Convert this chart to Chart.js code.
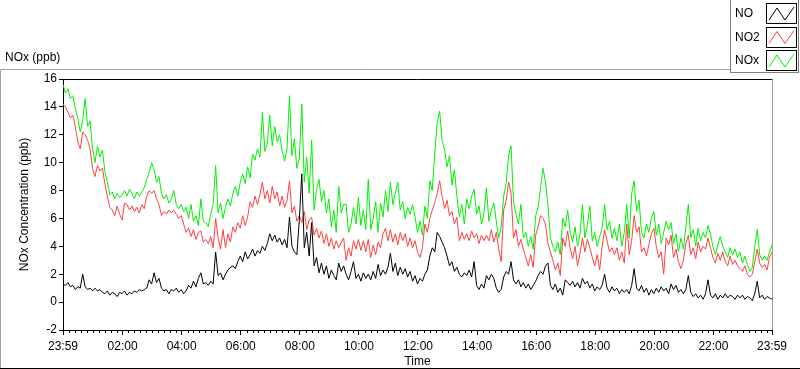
<!DOCTYPE html>
<html>
<head>
<meta charset="utf-8">
<script src="https://cdn.jsdelivr.net/npm/chart.js@4.4.1/dist/chart.umd.min.js"></script>
<style>
html, body { margin: 0; padding: 0; background: #fff; }
#noxChart { display: block; }
</style>
</head>
<body>
<canvas id="noxChart" width="800" height="369"></canvas>
<script>
// one reading every 5 minutes, starting at 23:59
const sampleStep = 5;

const noValues = [
    1.3,1.2,1.4,1.1,1.2,0.9,1.1,1.0,2.0,1.1, 0.9,1.0,0.8,1.0,0.8,0.9,0.7,0.6,0.8,0.5,
    0.7,0.6,0.4,0.7,0.6,0.8,0.5,0.7,0.6,0.8, 0.7,0.9,0.8,0.9,1.0,1.6,1.3,2.1,1.4,1.7,
    1.0,0.8,0.9,0.6,0.9,0.8,1.0,0.7,0.9,0.6, 0.8,1.2,1.0,1.5,1.1,1.7,2.1,1.3,
    1.4,1.2,1.5,1.3,3.6,1.9,2.1,1.6,2.0,2.3, 2.5,2.6,2.4,2.9,3.3,2.9,3.6,3.1,3.4,3.8,
    3.3,3.7,3.5,4.0,3.7,4.2,4.9,4.4,4.8,4.3, 4.6,4.1,4.5,3.9,6.1,4.0,3.6,3.4,5.9,9.2,
    3.9,5.0,3.3,5.7,2.6,3.2,2.1,2.8,2.0,2.6, 1.7,2.3,1.9,1.6,2.8,2.2,2.6,
    2.0,1.6,2.2,2.9,1.7,2.0,1.5,2.1,1.7,2.0, 1.6,2.2,1.7,2.7,1.9,2.3,2.0,2.5,3.5,2.2,
    2.8,1.9,2.5,2.0,2.4,1.8,2.2,1.5,1.9,1.3, 1.7,1.5,2.0,2.3,3.3,3.9,3.6,5.0,4.7,4.3,
    3.9,3.3,2.6,2.9,2.2,2.5,2.0,1.8,2.1,1.9, 2.3,1.8,2.9,1.2,0.9,1.3,1.0,
    1.9,1.6,2.0,1.7,1.0,0.7,0.9,1.8,2.2,2.0, 2.9,1.6,1.3,1.6,1.1,1.4,1.0,1.3,0.9,1.2,
    1.5,1.9,2.2,2.0,2.6,2.8,1.2,0.9,1.3,0.7, 1.0,0.5,1.6,1.4,1.2,1.5,1.1,1.4,1.0,1.7,
    1.3,1.5,1.0,1.3,0.8,1.1,0.9,1.2,2.0,1.0, 0.7,1.1,0.8,1.0,0.6,0.9,0.7,
    0.9,0.6,1.2,2.4,1.0,0.8,1.2,0.7,1.0,0.5, 0.9,0.6,1.0,0.7,1.1,0.8,1.0,0.6,1.3,0.9,
    1.2,0.7,0.9,0.6,0.9,1.9,0.7,0.4,0.6,0.3, 0.5,0.2,0.6,1.6,0.5,0.3,0.6,0.2,0.5,0.3,
    0.6,0.3,0.5,0.4,0.2,0.5,0.3,0.5,0.2,0.4, 0.3,0.1,0.6,1.5,0.3,0.5,0.2,0.4,0.3,0.2
];

const no2Values = [
    14.2,14.0,13.6,13.2,13.4,12.6,11.5,11.0,12.2,12.0, 11.6,11.0,9.6,9.0,9.8,9.4,9.6,8.5,7.6,6.8,
    6.6,6.2,6.9,6.3,5.9,7.1,7.0,6.6,6.9,6.5, 6.8,6.4,7.0,6.7,7.6,8.0,7.8,8.0,7.4,7.0,
    6.2,6.5,6.3,6.6,6.4,6.6,6.3,6.0,6.2,5.6, 5.0,5.3,4.7,5.2,4.5,5.0,5.1,4.3,
    4.5,4.2,4.7,3.9,6.0,4.6,3.8,5.2,3.9,4.9, 4.3,5.4,5.0,5.7,5.3,6.2,5.5,6.1,7.2,6.8,
    7.6,7.0,7.7,8.6,7.4,8.0,7.1,8.3,7.4,7.9, 6.9,7.6,6.8,7.3,8.7,6.4,6.9,5.8,6.2,5.7,
    6.5,5.2,5.9,6.1,4.8,5.3,4.6,5.1,4.2,4.9, 4.0,4.6,3.8,4.4,3.9,4.3,4.6,
    3.0,3.9,3.3,4.4,3.8,4.5,3.7,4.4,3.6,4.5, 3.2,4.1,3.4,4.3,3.9,4.9,5.3,4.4,5.2,4.3,
    4.9,4.1,5.0,4.4,4.9,4.0,4.6,3.9,4.4,3.6, 3.2,3.9,5.6,5.0,6.0,6.6,7.1,7.8,8.7,7.6,
    6.7,7.3,6.2,6.5,5.6,6.1,4.4,5.0,4.5,4.9, 4.4,5.1,4.6,4.9,4.2,4.8,4.4,
    4.8,4.4,5.2,4.3,5.0,3.8,2.9,6.6,7.3,8.6, 7.8,4.6,5.2,4.0,4.5,3.8,3.2,2.6,3.4,2.5,
    4.8,5.4,6.2,6.0,5.6,4.2,3.6,3.0,2.3,2.8, 1.9,4.6,4.0,5.1,3.9,3.1,4.0,2.6,3.5,4.6,
    3.6,4.5,3.9,3.2,2.6,3.4,2.3,4.0,5.2,4.4, 3.6,3.9,3.4,3.9,3.0,3.6,2.8,
    5.6,3.4,4.4,6.2,5.0,5.4,3.6,3.9,3.3,4.1, 4.9,5.3,4.0,3.2,3.6,2.0,4.6,4.1,4.8,3.2,
    3.8,2.9,2.4,3.0,4.2,4.8,3.4,3.9,3.1,4.3, 3.6,4.0,3.8,4.6,3.9,3.2,2.8,3.5,3.0,3.6,
    2.9,2.6,3.3,2.7,3.0,2.6,2.4,2.2,2.6,2.0, 1.8,2.0,2.9,3.8,2.8,2.5,2.7,2.3,3.2,3.6
];

const noxValues = [
    15.6,15.0,15.3,14.6,14.8,13.9,13.2,12.2,13.0,14.6, 12.6,13.0,11.0,10.0,11.2,10.4,10.9,9.4,8.6,7.7,
    7.9,7.4,7.8,7.5,7.7,8.0,7.6,8.1,7.8,7.4, 7.9,7.6,7.9,8.2,8.8,9.3,10.0,9.5,8.6,9.0,
    7.8,7.4,7.7,7.1,7.4,8.0,7.0,6.7,7.0,6.5, 6.8,6.0,7.0,5.8,6.2,5.5,7.4,5.8,
    5.7,5.4,6.3,7.0,9.8,6.4,7.1,6.0,6.8,7.4, 6.9,7.8,8.3,7.6,8.6,9.2,8.5,9.7,8.9,10.6,
    10.2,11.0,10.4,13.6,10.8,11.4,13.4,11.2,12.6,11.5, 12.0,10.9,10.1,11.0,14.8,10.5,11.7,9.6,10.3,14.2,
    8.6,10.4,7.8,11.6,6.6,8.1,8.8,7.2,8.0,6.4, 7.4,5.4,6.6,5.0,8.3,6.4,7.0,
    7.0,5.0,5.6,6.8,5.6,7.5,5.5,6.6,5.2,8.8, 5.2,6.0,7.2,5.0,7.1,6.1,8.0,6.5,8.6,7.0,
    7.8,8.6,6.6,7.2,6.0,6.8,6.3,7.0,6.1,5.0, 5.8,4.8,6.9,6.0,8.7,8.0,10.6,12.8,13.7,11.6,
    10.9,9.7,10.5,8.4,9.5,7.6,6.1,7.0,5.6,7.4, 6.7,7.6,8.1,6.3,6.9,5.6,6.4,
    8.2,5.8,6.6,7.1,5.8,4.6,5.4,7.6,8.5,10.5, 11.2,7.2,6.3,5.6,7.0,4.6,5.0,4.0,4.7,3.8,
    6.2,6.8,8.2,9.6,8.6,7.0,4.6,4.0,3.6,4.3, 3.4,6.0,5.4,6.6,5.0,4.3,5.4,4.0,4.8,7.0,
    4.6,5.5,6.9,4.4,5.0,4.0,4.7,5.3,7.0,5.2, 5.8,4.6,5.3,4.4,5.6,4.0,5.0,
    7.0,4.6,7.8,8.7,6.5,7.3,5.0,4.6,5.6,5.0, 6.0,6.5,4.8,5.6,4.2,5.0,5.8,5.2,5.7,4.2,
    4.9,3.6,4.6,3.8,5.4,7.0,4.6,5.2,4.0,5.3, 4.4,5.0,4.6,5.5,4.9,4.0,3.4,4.1,4.7,4.0,
    3.6,3.2,3.9,3.4,3.8,3.2,3.6,2.8,3.3,2.7, 2.2,2.5,4.0,5.2,3.4,3.0,3.3,3.0,3.6,4.1
];

// minutes after 23:59 where the labelled ticks sit
const tickMinutes = [0, 121, 241, 361, 481, 601, 721, 841, 961, 1081, 1201, 1321, 1440];
const tickLabels = ['23:59', '02:00', '04:00', '06:00', '08:00', '10:00', '12:00',
                    '14:00', '16:00', '18:00', '20:00', '22:00', '23:59'];

const seriesNames = ['NO', 'NO2', 'NOx'];
const seriesColors = ['#000000', 'rgb(255,64,64)', 'rgb(0,240,0)'];

const uiFont = { family: '"Liberation Sans", Arial, sans-serif', size: 12 };

function toPoints(values) {
    return values.map((v, i) => ({ x: i * sampleStep, y: v }));
}

// frame, plot border, minor ticks and the little legend box
const labviewDecor = {
    id: 'labviewDecor',
    afterDraw(chart) {
        const ctx = chart.ctx;
        const area = chart.chartArea;
        const xScale = chart.scales.x;
        ctx.save();
        ctx.lineWidth = 1;

        // plot border top/right
        ctx.strokeStyle = '#000';
        ctx.beginPath();
        ctx.moveTo(area.left, area.top + 0.5);
        ctx.lineTo(area.right, area.top + 0.5);
        ctx.stroke();
        ctx.strokeStyle = '#9a9a9a';
        ctx.beginPath();
        ctx.moveTo(area.right + 0.5, area.top);
        ctx.lineTo(area.right + 0.5, area.bottom);
        ctx.stroke();

        // minor x ticks every 12 minutes
        ctx.strokeStyle = '#000';
        ctx.beginPath();
        for (let m = 1; m < 1440; m += 12) {
            if (tickMinutes.some(t => Math.abs(t - m) < 3)) continue;
            const px = Math.round(xScale.getPixelForValue(m)) + 0.5;
            ctx.moveTo(px, area.bottom);
            ctx.lineTo(px, area.bottom + 3);
        }
        ctx.stroke();

        // outer panel frame
        ctx.strokeStyle = '#a0a0a0';
        ctx.beginPath();
        ctx.moveTo(0.5, 368);
        ctx.lineTo(0.5, 69.5);
        ctx.lineTo(730, 69.5);
        ctx.stroke();
        ctx.strokeStyle = '#000';
        ctx.beginPath();
        ctx.moveTo(0, 368.5);
        ctx.lineTo(800, 368.5);
        ctx.stroke();

        // panel caption
        ctx.fillStyle = '#000';
        ctx.font = `${uiFont.size}px ${uiFont.family}`;
        ctx.textBaseline = 'middle';
        ctx.textAlign = 'left';
        ctx.fillText('NOx (ppb)', 5, 58);

        // legend
        ctx.fillStyle = '#fff';
        ctx.fillRect(730, 0, 69, 72);
        ctx.strokeStyle = '#808080';
        ctx.strokeRect(730.5, -1, 68, 73.5);
        chart.data.datasets.forEach((ds, i) => {
            const top = 3 + i * 23.5;
            ctx.fillStyle = '#000';
            ctx.fillText(ds.label, 735, top + 11);
            ctx.strokeStyle = '#000';
            ctx.strokeRect(766.5, Math.round(top) + 0.5, 30, 20);
            ctx.strokeStyle = ds.borderColor;
            ctx.beginPath();
            ctx.moveTo(769, top + 17);
            ctx.lineTo(777, top + 5);
            ctx.lineTo(785, top + 17);
            ctx.lineTo(794, top + 4);
            ctx.stroke();
        });
        ctx.restore();
    }
};

const datasets = [noValues, no2Values, noxValues].map((vals, i) => ({
    label: seriesNames[i],
    data: toPoints(vals),
    borderColor: seriesColors[i],
    borderWidth: 1,
    pointRadius: 0,
    tension: 0,
    fill: false
}));

new Chart(document.getElementById('noxChart'), {
    type: 'line',
    data: { datasets: datasets },
    options: {
        responsive: false,
        animation: false,
        events: [],
        layout: { padding: { top: 79, right: 28, bottom: 0, left: 0 } },
        plugins: {
            legend: { display: false },
            tooltip: { enabled: false }
        },
        scales: {
            x: {
                type: 'linear',
                min: 0,
                max: 1440,
                afterBuildTicks: scale => {
                    scale.ticks = tickMinutes.map(v => ({ value: v }));
                },
                afterFit: scale => { scale.height = 39; },
                ticks: {
                    autoSkip: false,
                    maxRotation: 0,
                    color: '#000',
                    font: uiFont,
                    padding: 4,
                    callback: (value, index) => tickLabels[index]
                },
                grid: { drawOnChartArea: false, drawTicks: true, tickLength: 5, tickColor: '#000' },
                border: { color: '#000', width: 1 },
                title: {
                    display: true,
                    text: 'Time',
                    color: '#000',
                    font: uiFont,
                    padding: { top: 0, bottom: 0 }
                }
            },
            y: {
                min: -2,
                max: 16,
                afterFit: scale => { scale.width = 63; },
                ticks: {
                    stepSize: 2,
                    color: '#000',
                    font: uiFont,
                    padding: 2
                },
                grid: { drawOnChartArea: false, drawTicks: true, tickLength: 4, tickColor: '#000' },
                border: { color: '#000', width: 1 },
                title: {
                    display: true,
                    text: 'NOx Concentration (ppb)',
                    color: '#000',
                    font: uiFont,
                    padding: { top: 17, bottom: 0 }
                }
            }
        }
    },
    plugins: [labviewDecor]
});
</script>
</body>
</html>
